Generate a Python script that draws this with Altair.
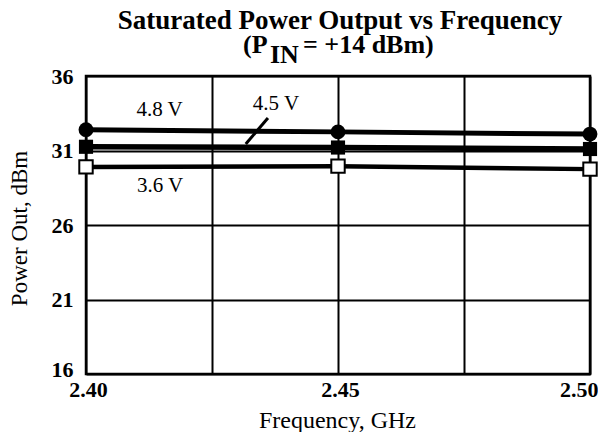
import altair as alt
import pandas as pd

# Data
freq = [2.40, 2.45, 2.50]
v48 = [32.4, 32.25, 32.1]
v45 = [31.25, 31.2, 31.1]
v36 = [29.9, 29.95, 29.75]

x_grid = [2.40, 2.425, 2.45, 2.475, 2.50]
y_ticks = [16, 21, 26, 31, 36]

# annotation labels (data coordinates)
ann_text = ["4.8 V", "4.5 V", "3.6 V"]
ann_x = [2.4146, 2.4377, 2.4147]
ann_y = [33.72, 34.12, 28.62]
leader_x = [2.4361, 2.4317]
leader_y = [33.18, 31.44]

FONT = "Liberation Serif"

df48 = pd.DataFrame({"f": freq, "p": v48})
df45 = pd.DataFrame({"f": freq, "p": v45})
df36 = pd.DataFrame({"f": freq, "p": v36})
ann = pd.DataFrame({"t": ann_text, "f": ann_x, "p": ann_y})
leader = pd.DataFrame({"f": [leader_x[0]], "p": [leader_y[0]], "f2": [leader_x[1]], "p2": [leader_y[1]]})

xs = alt.Scale(domain=[2.40, 2.50], nice=False)
ys = alt.Scale(domain=[16, 36], nice=False)

x_enc = alt.X(
    "f:Q", scale=xs,
    axis=alt.Axis(
        values=x_grid, title="Frequency, GHz",
        labelExpr="indexof(['2.40','2.45','2.50'], format(datum.value,'.2f')) >= 0 ? format(datum.value,'.2f') : ''",
        grid=True, gridColor="black", gridWidth=2, gridOpacity=1,
        ticks=False, domain=False, labelFont=FONT, labelFontSize=22, labelFontWeight="bold",
        labelColor="black", labelPadding=5, labelFlush=False, labelOverlap=False,
        labelAlign={"condition": {"test": "datum.value > 2.49", "value": "right"}, "value": "center"},
        labelOffset={"condition": {"test": "datum.value > 2.49", "value": 8}, "value": 2},
        titleFont=FONT, titleFontSize=24, titleFontWeight="normal", titleColor="black",
        titleX=251, titleY=46, titleBaseline="middle", titleAlign="center",
    ),
)
y_enc = alt.Y(
    "p:Q", scale=ys,
    axis=alt.Axis(
        values=y_ticks, title="Power Out, dBm", format="d",
        grid=True, gridColor="black", gridWidth=2, gridOpacity=1,
        ticks=False, domain=False, labelFont=FONT, labelFontSize=22, labelFontWeight="bold",
        labelColor="black", labelPadding=13, labelOverlap=False,
        labelOffset={"condition": {"test": "datum.value < 17", "value": -5}, "value": 0},
        titleFont=FONT, titleFontSize=23, titleFontWeight="normal", titleColor="black",
        titleX=-67, titleY=152, titleBaseline="middle", titleAlign="center", titleAngle=270,
    ),
)

base_axes = alt.Chart(df48).mark_line(opacity=0).encode(x=x_enc, y=y_enc)

def line(df, w):
    return alt.Chart(df).mark_line(color="black", strokeWidth=w).encode(
        x=alt.X("f:Q", scale=xs), y=alt.Y("p:Q", scale=ys))

l48 = line(df48, 5)
l45 = line(df45, 5.5)
l36 = line(df36, 4.5)

m48 = alt.Chart(df48).mark_point(shape="circle", filled=True, color="black", size=220, opacity=1).encode(
    x=alt.X("f:Q", scale=xs), y=alt.Y("p:Q", scale=ys))
m45 = alt.Chart(df45).mark_point(shape="square", filled=True, color="black", size=200, opacity=1).encode(
    x=alt.X("f:Q", scale=xs), y=alt.Y("p:Q", scale=ys))
m36 = alt.Chart(df36).mark_point(shape="square", filled=True, fill="white", stroke="black",
                                 strokeWidth=2, size=180, opacity=1).encode(
    x=alt.X("f:Q", scale=xs), y=alt.Y("p:Q", scale=ys))

labels = alt.Chart(ann).mark_text(font=FONT, fontSize=21, color="black", align="center", baseline="middle").encode(
    x=alt.X("f:Q", scale=xs), y=alt.Y("p:Q", scale=ys), text="t:N")

lead = alt.Chart(leader).mark_rule(color="black", strokeWidth=3).encode(
    x=alt.X("f:Q", scale=xs), y=alt.Y("p:Q", scale=ys), x2="f2:Q", y2="p2:Q")

title_df = pd.DataFrame({"a": [0]})
def ttext(txt, x, y, align, size):
    return alt.Chart(title_df).mark_text(
        text=txt, font=FONT, fontSize=size, fontWeight="bold", color="black",
        align=align, baseline="alphabetic").encode(x=alt.value(x), y=alt.value(y))

t1 = ttext("Saturated Power Output vs Frequency", 254, -47, "center", 27)
t2a = ttext("(P", 157, -23, "left", 26)
t2b = ttext("IN", 184, -13, "left", 26)
t2c = ttext("= +14 dBm)", 217, -23, "left", 26)

chart = alt.layer(base_axes, l36, l45, l48, lead, m36, m45, m48, labels, t1, t2a, t2b, t2c).properties(
    width=504, height=298,
    autosize=alt.AutoSizeParams(type="none"),
    padding={"left": 78, "top": 68, "right": 8, "bottom": 58},
    background="white",
).configure_view(stroke="black", strokeWidth=2.5)

chart.save("out.html", embed_options={"renderer": "svg", "actions": False})
